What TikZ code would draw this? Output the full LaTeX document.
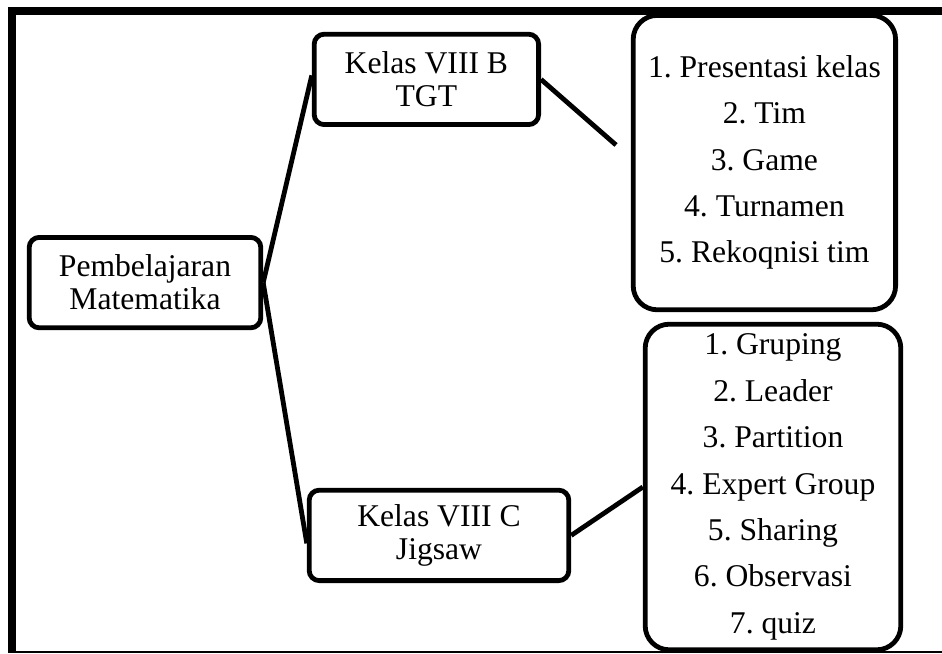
\documentclass[tikz,border=0pt]{standalone}
\usepackage{fontspec}
\setmainfont{Liberation Serif}
\frenchspacing
\tikzset{
	kotak/.style={draw, line width=1.2mm, rounded corners=0.25cm, align=center, inner sep=0pt, font=\fontsize{22.5}{23.5}\selectfont},
	daftar/.style={kotak, rounded corners=0.6cm, font=\fontsize{22.5}{33}\selectfont},
	garis/.style={line width=1.2mm}
}

\begin{document}
\begin{tikzpicture}
		%%%%% START %%%%%
		\useasboundingbox (0, 0) rectangle (23.55, 16.325);
		
		\draw[line width=2mm] (23.55, 16.05) -- (0.3, 16.05) -- (0.3, 0);
		\draw[line width=0.4mm] (0.3, 0.03) -- (23.55, 0.03);
		
		\node[kotak, minimum width=5.79cm, minimum height=2.26cm] (pembelajaran) at (3.625, 9.26) {Pembelajaran\\Matematika};
		
		\node[kotak, minimum width=5.61cm, minimum height=2.26cm] (tgt) at (10.66, 14.34) {Kelas VIII B\\TGT};
		\node[kotak, minimum width=6.49cm, minimum height=2.26cm] (jigsaw) at (10.975, 2.94) {Kelas VIII C\\Jigsaw};
		
		\node[daftar, minimum width=6.56cm, minimum height=7.36cm] (langkahtgt) at (19.11, 12.26) {1. Presentasi kelas\\2. Tim\\3. Game\\4. Turnamen\\5. Rekoqnisi tim};
		\node[daftar, minimum width=6.39cm, minimum height=8.14cm] (langkahjigsaw) at (19.325, 4.15) {1. Gruping\\2. Leader\\3. Partition\\4. Expert Group\\5. Sharing\\6. Observasi\\7. quiz};
		
		\draw[garis] (pembelajaran.east) -- ([yshift=0.1cm]tgt.west);
		\draw[garis] (pembelajaran.east) -- ([yshift=-0.2cm]jigsaw.west);
		
		\coordinate (ujungtgt) at (15.4, 12.7);
		\draw[garis] (tgt.east) -- (ujungtgt);
		\draw[garis] (jigsaw.east) -- (langkahjigsaw.west);
		
		%%%%% END %%%%%
	\end{tikzpicture}
\end{document}
